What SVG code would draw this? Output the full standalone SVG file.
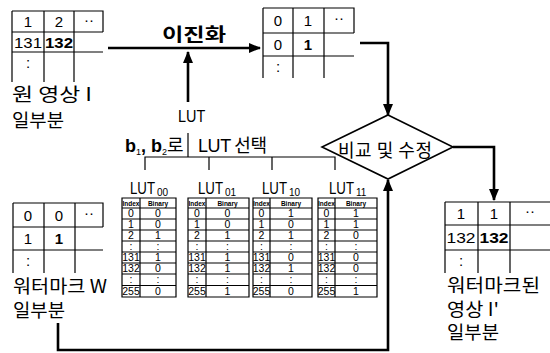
<svg xmlns="http://www.w3.org/2000/svg" width="550" height="353" viewBox="0 0 550 353">
<style>
.g{stroke:#000;stroke-width:1.2;fill:none}
.t{font-family:"Liberation Sans","Noto Sans CJK KR",sans-serif;fill:#000;text-anchor:middle}
.n{font-size:15px}
.b{font-weight:bold}
.k{font-family:"Noto Sans CJK KR","Liberation Sans",sans-serif;fill:#000;font-size:18px}
.h{font-size:6.5px;font-weight:bold}
.c{font-size:10.5px}
.L{font-family:"Liberation Sans",sans-serif;fill:#000;font-size:17px}
.s{font-family:"Liberation Sans",sans-serif;fill:#000;font-size:10px}
.a{stroke:#000;stroke-width:2.6;fill:none}
.tl{stroke:#000;stroke-width:1.2;fill:none}
</style>
<defs>
<marker id="ah" markerUnits="userSpaceOnUse" markerWidth="12" markerHeight="12" viewBox="0 0 12 12" refX="11" refY="6" orient="auto">
<path d="M0,1 L12,6 L0,11 Z" fill="#000"/>
</marker>
</defs>
<rect width="550" height="353" fill="#fff"/>

<g id="original">
<path class="g" d="M12,11 H103 V32 M12,32 H103 M12,52 H103 M12,11 V82 M44,11 V82 M74,11 V82"/>
<text class="t n" x="28" y="27">1</text>
<text class="t n" x="59" y="27">2</text>
<text class="t n" x="89" y="25">··</text>
<text class="t n" x="28" y="48" textLength="28" lengthAdjust="spacingAndGlyphs">131</text>
<text class="t n b" x="59" y="48" textLength="28" lengthAdjust="spacingAndGlyphs">132</text>
<text class="t n" x="28" y="68">:</text>
<text class="k" x="12" y="101" textLength="80" lengthAdjust="spacingAndGlyphs">원 영상 I</text>
<text class="k" x="12" y="127" textLength="52" lengthAdjust="spacingAndGlyphs">일부분</text>
</g>

<g id="binarized">
<path class="g" d="M263,8 H354 V33 M263,33 H354 M263,56 H354 M263,8 V78 M293,8 V78 M324,8 V78"/>
<text class="t n" x="278" y="26">0</text>
<text class="t n" x="308" y="26">1</text>
<text class="t n" x="339" y="23">··</text>
<text class="t n" x="278" y="50">0</text>
<text class="t n b" x="308" y="50">1</text>
<text class="t n" x="278" y="72">:</text>
</g>

<g id="watermark">
<path class="g" d="M13,203 H103 V227 M13,227 H103 M13,250 H103 M13,203 V273 M44,203 V273 M75,203 V273"/>
<text class="t n" x="28" y="221">0</text>
<text class="t n" x="59" y="221">0</text>
<text class="t n" x="89" y="218">··</text>
<text class="t n" x="28" y="244">1</text>
<text class="t n b" x="59" y="244">1</text>
<text class="t n" x="28" y="266">:</text>
<text class="k" x="13" y="293" textLength="94" lengthAdjust="spacingAndGlyphs">워터마크 W</text>
<text class="k" x="13" y="317" textLength="52" lengthAdjust="spacingAndGlyphs">일부분</text>
</g>

<g id="watermarked">
<path class="g" d="M445,202 H550 M445,225 H550 M445,250 H550 M445,202 V273 M478,202 V273 M510,202 V273"/>
<text class="t n" x="461" y="219">1</text>
<text class="t n" x="494" y="219">1</text>
<text class="t n" x="530" y="216">··</text>
<text class="t n" x="461" y="243" textLength="29" lengthAdjust="spacingAndGlyphs">132</text>
<text class="t n b" x="494" y="243" textLength="29" lengthAdjust="spacingAndGlyphs">132</text>
<text class="t n" x="461" y="266">:</text>
<text class="k" x="447" y="292" font-size="16" textLength="93" lengthAdjust="spacingAndGlyphs">워터마크된</text>
<text class="k" x="447" y="315.5" font-size="16" textLength="52" lengthAdjust="spacingAndGlyphs">영상 I'</text>
<text class="k" x="447" y="339" font-size="16" textLength="52" lengthAdjust="spacingAndGlyphs">일부분</text>
</g>

<g id="compare">
<polygon points="388,115 453,147 388,179 322,147" fill="#fff" stroke="#000" stroke-width="1.6"/>
<text class="k" x="338" y="157" font-size="15" textLength="94" lengthAdjust="spacing">비교 및 수정</text>
</g>

<g id="labels">
<text class="t" x="194" y="41" font-size="18" font-family="Noto Sans CJK KR" font-weight="bold" textLength="64" lengthAdjust="spacingAndGlyphs">이진화</text>
<text class="L" transform="translate(178,122) scale(0.85,1)" font-size="19">LUT</text>
<text class="k" x="125" y="152" font-size="16"><tspan font-family="Liberation Sans" font-weight="bold">b</tspan><tspan font-family="Liberation Sans" font-size="9" dy="3">1</tspan><tspan font-family="Liberation Sans" font-weight="bold" dy="-3">, b</tspan><tspan font-family="Liberation Sans" font-size="9" dy="3">2</tspan><tspan dy="-3">로</tspan></text>
<text class="k" x="198" y="152" font-size="16" textLength="69" lengthAdjust="spacing"><tspan font-family="Liberation Sans">LUT</tspan> 선택</text>
</g>

<g id="lut00">
<text class="L" transform="translate(130,194) scale(0.78,1)">LUT</text>
<text class="s" x="157" y="196">00</text>
<path class="g" d="M122,198 H176 V297 H122 Z M140,198 V297 M122,208 H176 M122,219 H176 M122,230 H176 M122,241 H176 M122,252 H176 M122,263 H176 M122,274 H176 M122,285.5 H176"/>
<text class="t h" x="131" y="206">Index</text><text class="t h" x="158" y="206">Binary</text>
<g class="t c">
<text x="131" y="217">0</text><text x="158" y="217">0</text>
<text x="131" y="228">1</text><text x="158" y="228">0</text>
<text x="131" y="239">2</text><text x="158" y="239">1</text>
<text x="131" y="250">:</text><text x="158" y="250">:</text>
<text x="131" y="261">131</text><text x="158" y="261">1</text>
<text x="131" y="272">132</text><text x="158" y="272">0</text>
<text x="131" y="283">:</text><text x="158" y="283">:</text>
<text x="131" y="295">255</text><text x="158" y="295">0</text>
</g>
</g>

<g id="lut01">
<text class="L" transform="translate(198,194) scale(0.78,1)">LUT</text>
<text class="s" x="225" y="196">01</text>
<path class="g" d="M188,198 H249 V297 H188 Z M206,198 V297 M188,208 H249 M188,219 H249 M188,230 H249 M188,241 H249 M188,252 H249 M188,263 H249 M188,274 H249 M188,285.5 H249"/>
<text class="t h" x="197" y="206">Index</text><text class="t h" x="227.5" y="206">Binary</text>
<g class="t c">
<text x="197" y="217">0</text><text x="227.5" y="217">0</text>
<text x="197" y="228">1</text><text x="227.5" y="228">0</text>
<text x="197" y="239">2</text><text x="227.5" y="239">1</text>
<text x="197" y="250">:</text><text x="227.5" y="250">:</text>
<text x="197" y="261">131</text><text x="227.5" y="261">1</text>
<text x="197" y="272">132</text><text x="227.5" y="272">1</text>
<text x="197" y="283">:</text><text x="227.5" y="283">:</text>
<text x="197" y="295">255</text><text x="227.5" y="295">1</text>
</g>
</g>

<g id="lut10">
<text class="L" transform="translate(262,194) scale(0.78,1)">LUT</text>
<text class="s" x="289" y="196">10</text>
<path class="g" d="M253,198 H312 V297 H253 Z M270,198 V297 M253,208 H312 M253,219 H312 M253,230 H312 M253,241 H312 M253,252 H312 M253,263 H312 M253,274 H312 M253,285.5 H312"/>
<text class="t h" x="261.5" y="206">Index</text><text class="t h" x="291" y="206">Binary</text>
<g class="t c">
<text x="261.5" y="217">0</text><text x="291" y="217">1</text>
<text x="261.5" y="228">1</text><text x="291" y="228">0</text>
<text x="261.5" y="239">2</text><text x="291" y="239">1</text>
<text x="261.5" y="250">:</text><text x="291" y="250">:</text>
<text x="261.5" y="261">131</text><text x="291" y="261">0</text>
<text x="261.5" y="272">132</text><text x="291" y="272">1</text>
<text x="261.5" y="283">:</text><text x="291" y="283">:</text>
<text x="261.5" y="295">255</text><text x="291" y="295">0</text>
</g>
</g>

<g id="lut11">
<text class="L" transform="translate(329,194) scale(0.78,1)">LUT</text>
<text class="s" x="356" y="196">11</text>
<path class="g" d="M318,198 H377 V297 H318 Z M335,198 V297 M318,208 H377 M318,219 H377 M318,230 H377 M318,241 H377 M318,252 H377 M318,263 H377 M318,274 H377 M318,285.5 H377"/>
<text class="t h" x="326.5" y="206">Index</text><text class="t h" x="356" y="206">Binary</text>
<g class="t c">
<text x="326.5" y="217">0</text><text x="356" y="217">1</text>
<text x="326.5" y="228">1</text><text x="356" y="228">1</text>
<text x="326.5" y="239">2</text><text x="356" y="239">0</text>
<text x="326.5" y="250">:</text><text x="356" y="250">:</text>
<text x="326.5" y="261">131</text><text x="356" y="261">0</text>
<text x="326.5" y="272">132</text><text x="356" y="272">0</text>
<text x="326.5" y="283">:</text><text x="356" y="283">:</text>
<text x="326.5" y="295">255</text><text x="356" y="295">1</text>
</g>
</g>

<g id="connectors">
<path class="a" d="M108,48 H260" marker-end="url(#ah)"/>
<path class="a" d="M188,102 V52" marker-end="url(#ah)"/>
<path class="a" d="M360,43 H388 V115" marker-end="url(#ah)"/>
<path class="a" d="M453,147 H494 V200" marker-end="url(#ah)"/>
<path class="a" d="M58,323 V350 H388 V180" marker-end="url(#ah)"/>
<path class="tl" d="M188,133 V157 M145,170 V157 H335 V170 M209,157 V170 M272,157 V170"/>
</g>
</svg>
